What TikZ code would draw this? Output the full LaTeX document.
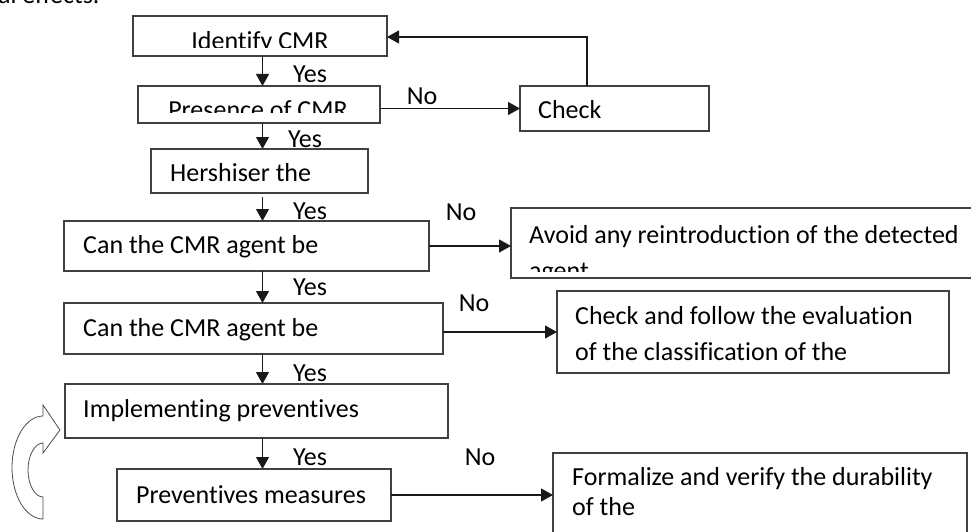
\documentclass[tikz,border=0pt]{standalone}
\usepackage{fontspec}
\setmainfont{Carlito}[Ligatures={NoCommon}]
\usetikzlibrary{arrows.meta}
\begin{document}
\begin{tikzpicture}[x=1pt,y=-1pt,
  box/.style={draw=black!75,line width=1.2pt,inner sep=0pt,outer sep=0pt},
  txt/.style={font=\fontsize{26pt}{31pt}\selectfont,inner sep=0pt,anchor=base west,text=black},
  lbl/.style={font=\fontsize{26pt}{31pt}\selectfont,inner sep=0pt,text=black},
  arr/.style={draw=black!90,line width=1.2pt,-{Triangle[length=12pt,width=13pt]}},
  bigarrow/.style={draw=black!70,line width=0.8pt,fill=white}]
\useasboundingbox (0,0) rectangle (971,532);
\clip (0,0) rectangle (971,532);

% cut-off text at the top
\node[txt] (top) at (-2,4) {al effects.};

% boxes
\node[box,minimum width=254pt,minimum height=40pt] (idf) at (260,36) {};
\node[box,minimum width=242pt,minimum height=37pt] (pres) at (259,104.5) {};
\node[box,minimum width=189pt,minimum height=45pt] (chk) at (614.5,108.5) {};
\node[box,minimum width=217pt,minimum height=44pt] (hers) at (259.5,171) {};
\node[box,minimum width=365pt,minimum height=50pt] (can1) at (246.5,246) {};
\node[box,minimum width=469pt,minimum height=70pt] (avoid) at (745.5,243) {};
\node[box,minimum width=379pt,minimum height=51pt] (can2) at (253.5,328.5) {};
\node[box,minimum width=392pt,minimum height=82pt] (cf) at (753,332) {};
\node[box,minimum width=383pt,minimum height=54pt] (impl) at (256.5,411) {};
\node[box,minimum width=274pt,minimum height=52pt] (prev) at (254,495) {};
\node[box,minimum width=414pt,minimum height=92pt] (form) at (760,499) {};

% texts (some are cut off as in the reference)
\begin{scope}
  \clip (133,16) rectangle (387,47.5);
  \node[txt,anchor=base] (tidf) at (260,49.5) {Identify CMR};
\end{scope}
\begin{scope}
  \clip (138,86) rectangle (380,113);
  \node[txt,anchor=base] (tpres) at (258,118.5) {Presence of CMR};
\end{scope}
\node[txt] (tchk) at (538,118.5) {Check};
\node[txt] (thers) at (170,181.5) {Hershiser the};
\node[txt] (tcan1) at (83,253.5) {Can the CMR agent be};
\node[txt] (tav1) at (529,243.5) {Avoid any reintroduction of the detected};
\begin{scope}
  \clip (511,208) rectangle (971,271);
  \node[txt] (tav2) at (529,279.5) {agent};
\end{scope}
\node[txt] (tcan2) at (83,336.5) {Can the CMR agent be};
\node[txt] (tcf1) at (575,324.5) {Check and follow the evaluation};
\node[txt] (tcf2) at (575,360.5) {of the classification of the};
\node[txt] (timpl) at (83,417.5) {Implementing preventives};
\node[txt] (tprev) at (136,503.5) {Preventives measures};
\node[txt] (tf1) at (572,485.5) {Formalize and verify the durability};
\node[txt] (tf2) at (572,515.5) {of the};

% labels
\node[lbl] (y1) at (310,74) {Yes};
\node[lbl] (y2) at (305,139) {Yes};
\node[lbl] (y3) at (310,211) {Yes};
\node[lbl] (y4) at (310,287) {Yes};
\node[lbl] (y5) at (310,373) {Yes};
\node[lbl] (y6) at (310,457) {Yes};
\node[lbl] (n1) at (422,96) {No};
\node[lbl] (n2) at (461,212) {No};
\node[lbl] (n3) at (474,303) {No};
\node[lbl] (n4) at (480,457) {No};

% connectors
\coordinate (sp) at (262.5,0);
\coordinate (fb) at (587,37);
\draw[arr] (idf.south -| sp) -- (pres.north -| sp);
\draw[arr] (chk.west -| pres.east) -- (chk.west);
\draw[arr] (chk.north -| fb) -- (fb) -- (fb -| idf.east);
\draw[arr] (pres.south -| sp) -- (hers.north -| sp);
\draw[arr,shorten <=4pt] (hers.south -| sp) -- (can1.north -| sp);
\draw[arr] (can1.east) -- (can1.east -| avoid.west);
\draw[arr] (can1.south -| sp) -- (can2.north -| sp);
\draw[arr] (cf.west -| can2.east) -- (cf.west);
\draw[arr] (can2.south -| sp) -- (impl.north -| sp);
\draw[arr] (impl.south -| sp) -- (prev.north -| sp);
\draw[arr] (prev.east) -- (prev.east -| form.west);

% curved block arrow at the left
\draw[bigarrow] (43,416) .. controls (26,416) and (12,439) .. (12,467.5)
  .. controls (12,496) and (26,519) .. (43,519) -- (43,497)
  .. controls (35,497) and (28,485) .. (28,470)
  .. controls (28,455) and (35,443) .. (43,443)
  -- (43,453) -- (60,430) -- (43,405) -- cycle;
\end{tikzpicture}
\end{document}
